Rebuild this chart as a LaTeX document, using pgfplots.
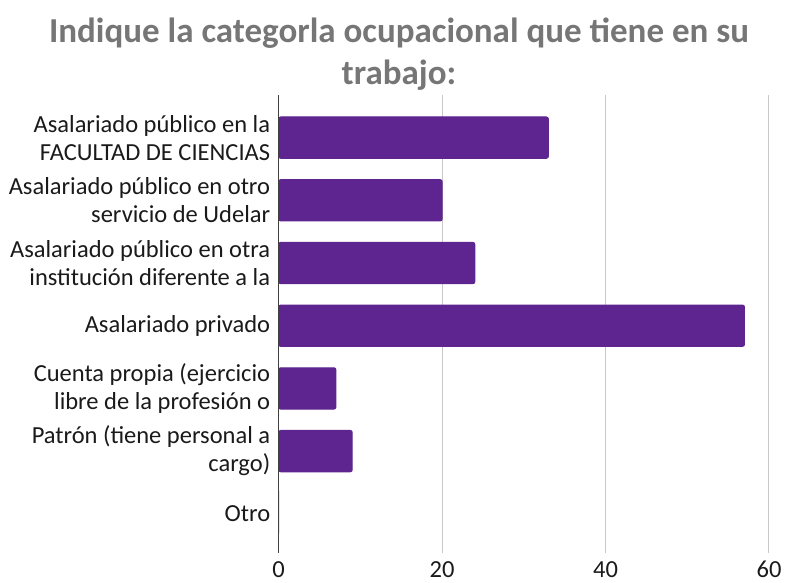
\documentclass[border=0pt]{standalone}
\usepackage{pgfplots}
\pgfplotsset{compat=1.18}
\usepackage{fontspec}
\setmainfont{Carlito}
\definecolor{barc}{HTML}{5E2590}
\definecolor{titlegray}{HTML}{767676}
\definecolor{gridc}{HTML}{C8C8C8}
\definecolor{axc}{HTML}{404040}
\definecolor{txt}{HTML}{1A1A1A}
\begin{document}
\begin{tikzpicture}[x=1pt,y=1pt]
\useasboundingbox (0,0) rectangle (790,583);
\node[font=\fontsize{35}{42}\selectfont\bfseries, text=titlegray, align=center] at (399,529) {Indique la categorla ocupacional que tiene en su\\trabajo:};
\begin{axis}[
  at={(278.7pt,30.3pt)}, anchor=south west,
  scale only axis, width=490.3pt, height=457.7pt,
  xbar, bar width=41.3pt,
  xmin=0, xmax=60, ymin=-0.62, ymax=6.68,
  xtick={0,20,40,60},
  ytick={0,1,2,3,4,5,6},
  yticklabels={Otro,
    {Patrón (tiene personal a\\cargo)},
    {Cuenta propia (ejercicio\\libre de la profesión o},
    Asalariado privado,
    {Asalariado público en otra\\institución diferente a la},
    {Asalariado público en otro\\servicio de Udelar},
    {Asalariado público en la\\FACULTAD DE CIENCIAS}},
  major tick length=0pt,
  xmajorgrids, grid style={gridc, line width=1pt},
  axis line style={draw=none},
  /pgf/number format/assume math mode=true,
  ticklabel style={font=\fontsize{24.5}{28}\selectfont, text=txt},
  yticklabel style={align=right, xshift=-5pt},
  xticklabel style={yshift=-5pt},
  clip=false,
]
\addplot[fill=barc, draw=barc, line width=1pt, rounded corners=2pt] coordinates {
 (0,0) (9,1) (7,2) (57,3) (24,4) (20,5) (33,6)};
\draw[axc, line width=1.3pt] (axis cs:0,-0.62) -- (axis cs:0,6.68);
\end{axis}
\end{tikzpicture}
\end{document}
